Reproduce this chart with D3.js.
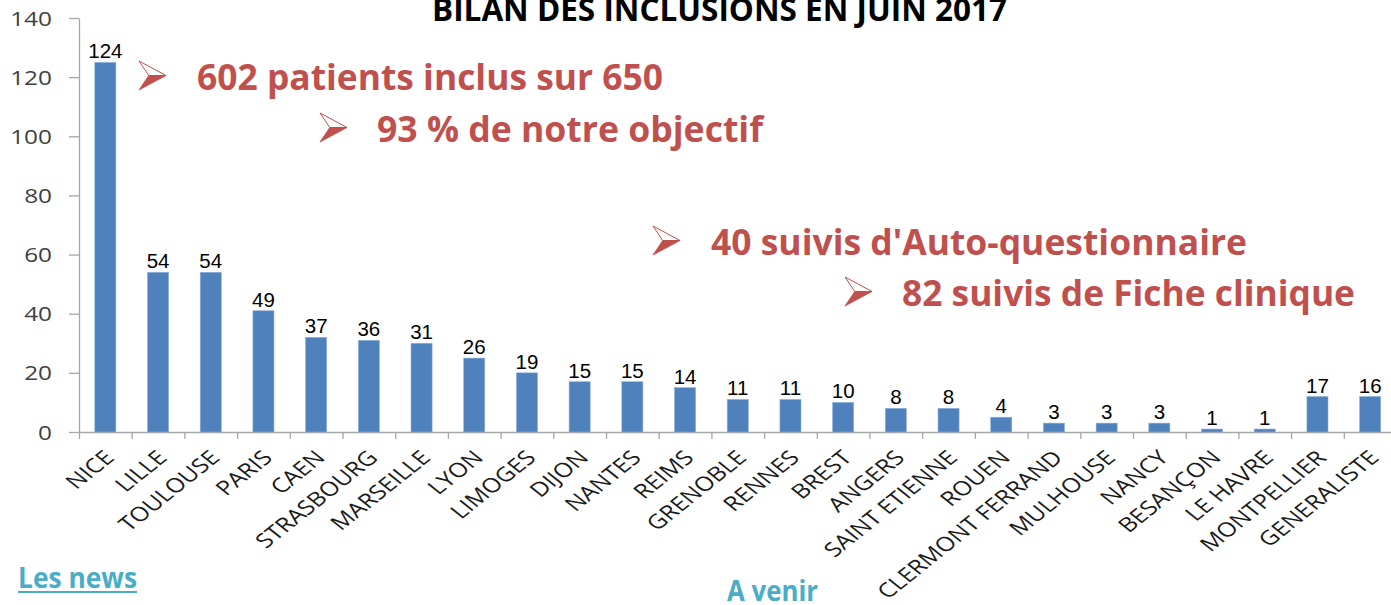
<!DOCTYPE html>
<html>
<head>
<meta charset="utf-8">
<script src="https://cdn.jsdelivr.net/npm/d3@7"></script>
<style>
  html, body { margin: 0; padding: 0; background: #fff; overflow: hidden; }
  svg { display: block; }
</style>
</head>
<body>
<svg id="chart" width="1391" height="605"></svg>
<script>
// Centres (ordre du graphique)
const cities = ['NICE', 'LILLE', 'TOULOUSE', 'PARIS', 'CAEN', 'STRASBOURG', 'MARSEILLE', 'LYON',
  'LIMOGES', 'DIJON', 'NANTES', 'REIMS', 'GRENOBLE', 'RENNES', 'BREST', 'ANGERS', 'SAINT ETIENNE',
  'ROUEN', 'CLERMONT FERRAND', 'MULHOUSE', 'NANCY', 'BESANÇON', 'LE HAVRE', 'MONTPELLIER', 'GENERALISTE'];
// hauteur des barres telle que dessinée
const barHeights = [125, 54, 54, 41, 32, 31, 30, 25, 20, 17, 17, 15, 11, 11, 10, 8, 8, 5, 3, 3, 3, 1, 1, 12, 12];
// étiquettes affichées au-dessus des barres (ne collent pas toujours à la barre)
const printedCounts = [124, 54, 54, 49, 37, 36, 31, 26, 19, 15, 15, 14, 11, 11, 10, 8, 8, 4, 3, 3, 3, 1, 1, 17, 16];
const yTicks = [0, 20, 40, 60, 80, 100, 120, 140];
const chartTitle = 'BILAN DES INCLUSIONS EN JUIN 2017';
const headlines = ['602 patients inclus sur 650', '93 % de notre objectif',
  "40 suivis d'Auto-questionnaire", '82 suivis de Fiche clinique'];

const RED = '#C0504D';
const TEAL = '#4BACC6';
const BLUE = '#4F81BD';
const AXIS = '#A6A6A6';
const STRETCH = 1.25; // le graphique d'origine est étiré horizontalement

const svg = d3.select('#chart');
const margin = { left: 79, top: 18, bottom: 432 };
const plotRight = 79 + 25 * 52.7;

const x = d3.scaleBand().domain(cities).range([margin.left, plotRight]).paddingInner(0.6).paddingOuter(0.3);
const y = d3.scaleLinear().domain([0, 140]).range([margin.bottom, margin.top]);

// axe Y
const yAxis = svg.append('g')
  .attr('transform', `translate(${margin.left},0)`)
  .call(d3.axisLeft(y).tickValues(yTicks).tickSize(10).tickSizeOuter(0));
yAxis.select('.domain').attr('stroke', AXIS).attr('stroke-width', 1.3);
yAxis.selectAll('.tick line').attr('stroke', AXIS).attr('stroke-width', 1.3);
yAxis.selectAll('.tick text')
  .attr('x', null)
  .attr('dy', '0.36em')
  .attr('transform', `translate(-27,0) scale(${STRETCH},1)`)
  .attr('fill', '#404040')
  .style('font', '19.5px "Open Sans", sans-serif');

// axe X : graduations aux limites des catégories
const xEdges = d3.scaleLinear().domain([0, cities.length]).range([margin.left, plotRight]);
const xAxis = svg.append('g')
  .attr('transform', `translate(0,${margin.bottom})`)
  .call(d3.axisBottom(xEdges).tickValues(d3.range(cities.length + 1)).tickSize(7).tickSizeOuter(0).tickFormat(''));
xAxis.select('.domain').attr('stroke', AXIS).attr('stroke-width', 1.3);
xAxis.selectAll('.tick line').attr('stroke', AXIS).attr('stroke-width', 1.3);

// barres
svg.append('g').selectAll('rect')
  .data(cities)
  .join('rect')
  .attr('x', (d) => x(d))
  .attr('width', x.bandwidth())
  .attr('y', (d, i) => y(barHeights[i]))
  .attr('height', (d, i) => y(0) - y(barHeights[i]))
  .attr('fill', BLUE)
  .attr('stroke', '#8FB0DA')
  .attr('stroke-width', 0.6);

// étiquettes de valeur
svg.append('g').selectAll('text')
  .data(cities)
  .join('text')
  .attr('x', (d) => x(d) + x.bandwidth() / 2)
  .attr('y', (d, i) => y(barHeights[i]) - 4)
  .attr('text-anchor', 'middle')
  .attr('fill', '#000')
  .style('font', '20.5px "Liberation Sans", Arial, sans-serif')
  .text((d, i) => printedCounts[i]);

// noms des centres, inclinés
svg.append('g').selectAll('text')
  .data(cities)
  .join('text')
  .attr('transform', (d) => `translate(${x(d) + x.bandwidth() / 2 + 4},454) scale(${STRETCH},1) rotate(-45)`)
  .attr('text-anchor', 'end')
  .attr('dy', '0.35em')
  .attr('fill', '#1a1a1a')
  .style('font', '20px "Open Sans", sans-serif')
  .text((d) => d);

// titre (coupé en haut comme sur la diapo)
svg.append('text')
  .attr('x', 432).attr('y', 21)
  .attr('textLength', 575).attr('lengthAdjust', 'spacingAndGlyphs')
  .attr('fill', '#000')
  .style('font', 'bold 33px "Open Sans", sans-serif')
  .text(chartTitle);

// puces flèches + messages
const headlineSpots = [
  { ax: 139, ay: 61, tx: 197, ty: 90, w: 466 },
  { ax: 320, ay: 113, tx: 377, ty: 142, w: 386 },
  { ax: 653, ay: 226, tx: 711, ty: 255, w: 536 },
  { ax: 845, ay: 277, tx: 902, ty: 306, w: 453 }
];
const AW = 27, AH = 29;
headlineSpots.forEach((s, i) => {
  const g = svg.append('g').attr('transform', `translate(${s.ax},${s.ay})`);
  g.append('path')
    .attr('d', `M0,0 L${AW},${AH * 0.5} L${AW * 0.36},${AH * 0.5} Z`)
    .attr('fill', '#fff').attr('stroke', RED).attr('stroke-width', 1).attr('stroke-linejoin', 'round');
  g.append('path')
    .attr('d', `M${AW * 0.36},${AH * 0.5} L${AW},${AH * 0.5} L0,${AH} Z`)
    .attr('fill', RED).attr('stroke', RED).attr('stroke-width', 0.8).attr('stroke-linejoin', 'round');
  svg.append('text')
    .attr('x', s.tx).attr('y', s.ty)
    .attr('textLength', s.w).attr('lengthAdjust', 'spacingAndGlyphs')
    .attr('fill', RED)
    .style('font', 'bold 35px "Open Sans", sans-serif')
    .text(headlines[i]);
});

// liens du bas de la diapo
svg.append('text')
  .attr('x', 18).attr('y', 588)
  .attr('textLength', 119).attr('lengthAdjust', 'spacingAndGlyphs')
  .attr('fill', TEAL)
  .style('font', 'bold 28px "Open Sans", sans-serif')
  .text('Les news');
svg.append('line')
  .attr('x1', 18).attr('x2', 137).attr('y1', 592).attr('y2', 592)
  .attr('stroke', TEAL).attr('stroke-width', 2);
svg.append('text')
  .attr('x', 727).attr('y', 601)
  .attr('textLength', 91).attr('lengthAdjust', 'spacingAndGlyphs')
  .attr('fill', TEAL)
  .style('font', 'bold 28px "Open Sans", sans-serif')
  .text('A venir');
</script>
</body>
</html>
